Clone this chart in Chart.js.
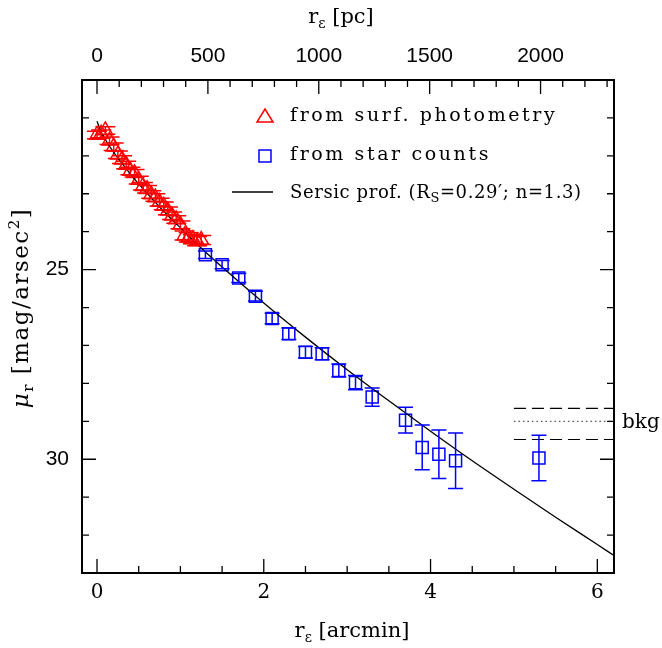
<!DOCTYPE html>
<html>
<head>
<meta charset="utf-8">
<script src="https://cdn.jsdelivr.net/npm/chart.js@4.4.0/dist/chart.umd.min.js"></script>
<style>
  html, body { margin: 0; padding: 0; background: #fff; }
  canvas { display: block; }
</style>
</head>
<body>
<canvas id="myChart" width="662" height="648"></canvas>
<script>
// surface photometry (red triangles)
const photR = [0.00, 0.05, 0.10, 0.15, 0.20, 0.25, 0.30, 0.35, 0.40, 0.45, 0.50, 0.55, 0.60,
  0.65, 0.70, 0.75, 0.80, 0.85, 0.90, 0.95, 1.00, 1.05, 1.10, 1.15, 1.20, 1.25];
const photMu = [21.45, 21.42, 21.33, 21.6, 21.76, 21.97, 22.1, 22.24, 22.4, 22.46, 22.64, 22.8, 22.88,
  23.02, 23.1, 23.22, 23.32, 23.45, 23.58, 23.68, 23.82, 24.1, 24.15, 24.2, 24.25, 24.22];
const photErr = [0.1, 0.1, 0.1, 0.1, 0.1, 0.1, 0.1, 0.1, 0.1, 0.1, 0.1, 0.1, 0.1,
  0.1, 0.1, 0.1, 0.1, 0.1, 0.1, 0.1, 0.1, 0.12, 0.12, 0.12, 0.12, 0.12];

// star counts (blue squares)
const countR = [1.3, 1.5, 1.7, 1.9, 2.1, 2.3, 2.5, 2.7, 2.9, 3.1, 3.3, 3.7, 3.9, 4.1, 4.3, 5.3];
const countMu = [24.61, 24.87, 25.22, 25.70, 26.29, 26.69, 27.18, 27.22, 27.66, 27.98, 28.36,
  28.97, 29.69, 29.87, 30.04, 29.97];
const countErr = [0.1, 0.11, 0.12, 0.13, 0.14, 0.15, 0.15, 0.16, 0.17, 0.19, 0.24,
  0.34, 0.59, 0.64, 0.73, 0.6];

// Sersic profile
const sersicR = [0, 0.05, 0.1, 0.2, 0.3, 0.4, 0.5, 0.6, 0.8, 1.0, 1.2, 1.5, 2.0, 2.5, 3.0, 3.5,
  4.0, 4.5, 5.0, 5.5, 6.0, 6.2];
const sersicMu = [21.09, 21.37, 21.57, 21.91, 22.20, 22.48, 22.74, 22.99, 23.46, 23.90, 24.33, 24.93,
  25.88, 26.78, 27.64, 28.46, 29.26, 30.04, 30.79, 31.53, 32.25, 32.54];

// background level
const bkgLevel = 29.0;
const bkgLow = 28.66;
const bkgHigh = 29.48;
const bkgFrom = 5.0;

// axes
const xTicks = [0, 2, 4, 6];
const yTicks = [25, 30];
const pcTicks = [0, 500, 1000, 1500, 2000];
const pcPerArcmin = 376;
const xMin = -0.18, xMax = 6.2;
const yMin = 20, yMax = 33;

const red = "#ff0000";
const blue = "#0000ff";
const serif = "'DejaVu Serif', serif";
const sans = "'Liberation Sans', Arial, sans-serif";

const toPoints = (xs, ys) => xs.map((x, i) => ({ x: x, y: ys[i] }));

// vertical error bars with caps
const errorBars = {
  id: "errorBars",
  afterDatasetsDraw(chart) {
    const { ctx, chartArea, scales } = chart;
    ctx.save();
    ctx.beginPath();
    ctx.rect(chartArea.left, chartArea.top, chartArea.width, chartArea.height);
    ctx.clip();
    chart.data.datasets.forEach((ds) => {
      if (!ds.errors) return;
      ctx.strokeStyle = ds.borderColor;
      ctx.lineWidth = 1.5;
      const w = ds.capWidth / 2;
      ds.data.forEach((p, i) => {
        const x = scales.x.getPixelForValue(p.x);
        const y1 = scales.y.getPixelForValue(p.y - ds.errors[i]);
        const y2 = scales.y.getPixelForValue(p.y + ds.errors[i]);
        ctx.beginPath();
        ctx.moveTo(x, y1); ctx.lineTo(x, y2);
        ctx.moveTo(x - w, y1); ctx.lineTo(x + w, y1);
        ctx.moveTo(x - w, y2); ctx.lineTo(x + w, y2);
        ctx.stroke();
      });
    });
    ctx.restore();
  },
};

// draws a run of text pieces (for sub/superscripts)
function drawPieces(ctx, pieces, x, y, align) {
  let total = 0;
  pieces.forEach((p) => { ctx.font = p.font; total += ctx.measureText(p.t).width; });
  let cx = align === "center" ? x - total / 2 : x;
  pieces.forEach((p) => {
    ctx.font = p.font;
    ctx.fillText(p.t, cx, y + (p.dy || 0));
    cx += ctx.measureText(p.t).width;
  });
}

// inward tick marks, legend, titles
const decorations = {
  id: "decorations",
  afterDraw(chart) {
    const { ctx, chartArea: a, scales } = chart;
    ctx.save();
    ctx.strokeStyle = "#000";
    ctx.lineWidth = 1.3;
    ctx.beginPath();
    for (let v = 0; v <= 6.001; v += 0.5) {
      const x = scales.x.getPixelForValue(v);
      const len = Math.abs(v % 2) < 0.01 ? 14 : 7;
      ctx.moveTo(x, a.bottom); ctx.lineTo(x, a.bottom - len);
    }
    for (let v = 0; v <= 2300; v += 100) {
      const x = scales.xTop.getPixelForValue(v);
      const len = v % 500 === 0 ? 14 : 7;
      ctx.moveTo(x, a.top); ctx.lineTo(x, a.top + len);
    }
    for (let v = 21; v <= 32; v += 1) {
      const y = scales.y.getPixelForValue(v);
      const len = v % 5 === 0 ? 14 : 7;
      ctx.moveTo(a.left, y); ctx.lineTo(a.left + len, y);
      ctx.moveTo(a.right, y); ctx.lineTo(a.right - len, y);
    }
    ctx.stroke();

    // legend
    ctx.lineWidth = 1.5;
    ctx.strokeStyle = red;
    ctx.beginPath();
    ctx.moveTo(265, 109); ctx.lineTo(273, 122); ctx.lineTo(257, 122); ctx.closePath();
    ctx.stroke();
    ctx.strokeStyle = blue;
    ctx.strokeRect(259, 150, 12, 12);
    ctx.strokeStyle = "#000";
    ctx.lineWidth = 1.3;
    ctx.beginPath(); ctx.moveTo(232, 192); ctx.lineTo(273, 192); ctx.stroke();

    ctx.fillStyle = "#000";
    ctx.textBaseline = "alphabetic";
    ctx.textAlign = "left";
    ctx.letterSpacing = "2.6px";
    ctx.font = "19px " + serif;
    ctx.fillText("from surf. photometry", 290, 121);
    ctx.fillText("from star counts", 290, 160);
    ctx.letterSpacing = "0.6px";
    const f18 = "18px " + serif, f13 = "13px " + serif;
    drawPieces(ctx, [
      { t: "Sersic prof. (R", font: f18 },
      { t: "S", font: f13, dy: 4 },
      { t: "=0.29\u2032; n=1.3)", font: f18 },
    ], 290, 198, "left");
    ctx.letterSpacing = "0px";

    // bkg label
    ctx.font = "20px " + serif;
    ctx.fillText("bkg", 622, 428);

    // axis titles
    const f21 = "21px " + serif, f14 = "14px " + serif;
    drawPieces(ctx, [
      { t: "r", font: f21 }, { t: "\u03b5", font: f14, dy: 5 }, { t: " [pc]", font: f21 },
    ], 341, 23, "center");
    drawPieces(ctx, [
      { t: "r", font: f21 }, { t: "\u03b5", font: f14, dy: 5 }, { t: " [arcmin]", font: f21 },
    ], 352, 637, "center");
    ctx.translate(28, 308);
    ctx.rotate(-Math.PI / 2);
    ctx.letterSpacing = "1.5px";
    const f23 = "23px " + serif, f15 = "15px " + serif;
    drawPieces(ctx, [
      { t: "\u03bc", font: "italic " + f23 }, { t: "r", font: f15, dy: 5 },
      { t: " [mag/arsec", font: f23 }, { t: "2", font: f15, dy: -9 }, { t: "]", font: f23 },
    ], 0, 0, "center");
    ctx.restore();
  },
};

const ctx = document.getElementById("myChart");
new Chart(ctx, {
  type: "scatter",
  data: {
    datasets: [
      {
        type: "line",
        data: toPoints(sersicR, sersicMu),
        borderColor: "#000",
        borderWidth: 1.3,
        pointRadius: 0,
        cubicInterpolationMode: "monotone",
        fill: false,
      },
      {
        type: "line",
        data: toPoints([bkgFrom, xMax], [bkgHigh, bkgHigh]),
        borderColor: "#000",
        borderWidth: 1.2,
        borderDash: [12, 6],
        pointRadius: 0,
      },
      {
        type: "line",
        data: toPoints([bkgFrom, xMax], [bkgLevel, bkgLevel]),
        borderColor: "#555",
        borderWidth: 1.3,
        borderDash: [1.5, 3],
        pointRadius: 0,
      },
      {
        type: "line",
        data: toPoints([bkgFrom, xMax], [bkgLow, bkgLow]),
        borderColor: "#000",
        borderWidth: 1.2,
        borderDash: [12, 6],
        pointRadius: 0,
      },
      {
        data: toPoints(photR, photMu),
        errors: photErr,
        capWidth: 20,
        pointStyle: "triangle",
        pointRadius: 8.5,
        borderColor: red,
        borderWidth: 1.5,
        backgroundColor: "rgba(0,0,0,0)",
      },
      {
        data: toPoints(countR, countMu),
        errors: countErr,
        capWidth: 15,
        pointStyle: "rect",
        pointRadius: 8.5,
        borderColor: blue,
        borderWidth: 1.5,
        backgroundColor: "rgba(0,0,0,0)",
      },
    ],
  },
  options: {
    responsive: false,
    animation: false,
    devicePixelRatio: 1,
    layout: { padding: 0 },
    plugins: { legend: { display: false }, tooltip: { enabled: false } },
    scales: {
      x: {
        type: "linear",
        position: "bottom",
        min: xMin,
        max: xMax,
        afterBuildTicks: (s) => { s.ticks = xTicks.map((v) => ({ value: v })); },
        afterFit: (s) => { s.height = 75; },
        ticks: { color: "#000", padding: 8, font: { family: serif, size: 20 } },
        grid: { display: false, drawTicks: false },
        border: { display: true, color: "#000", width: 2 },
      },
      xTop: {
        type: "linear",
        position: "top",
        min: xMin * pcPerArcmin,
        max: xMax * pcPerArcmin,
        afterBuildTicks: (s) => { s.ticks = pcTicks.map((v) => ({ value: v })); },
        afterFit: (s) => { s.height = 80; },
        ticks: {
          color: "#000",
          padding: 11,
          font: { family: sans, size: 21 },
          callback: (v) => String(v),
        },
        grid: { display: false, drawTicks: false },
        border: { display: true, color: "#000", width: 2 },
      },
      y: {
        type: "linear",
        position: "left",
        reverse: true,
        min: yMin,
        max: yMax,
        afterBuildTicks: (s) => { s.ticks = yTicks.map((v) => ({ value: v })); },
        afterFit: (s) => { s.width = 82; },
        ticks: { color: "#000", padding: 13, font: { family: sans, size: 21 } },
        grid: { display: false, drawTicks: false },
        border: { display: true, color: "#000", width: 2 },
      },
      yRight: {
        type: "linear",
        position: "right",
        reverse: true,
        min: yMin,
        max: yMax,
        afterFit: (s) => { s.width = 48; },
        ticks: { display: false },
        grid: { display: false, drawTicks: false },
        border: { display: true, color: "#000", width: 2 },
      },
    },
  },
  plugins: [errorBars, decorations],
});
</script>
</body>
</html>
